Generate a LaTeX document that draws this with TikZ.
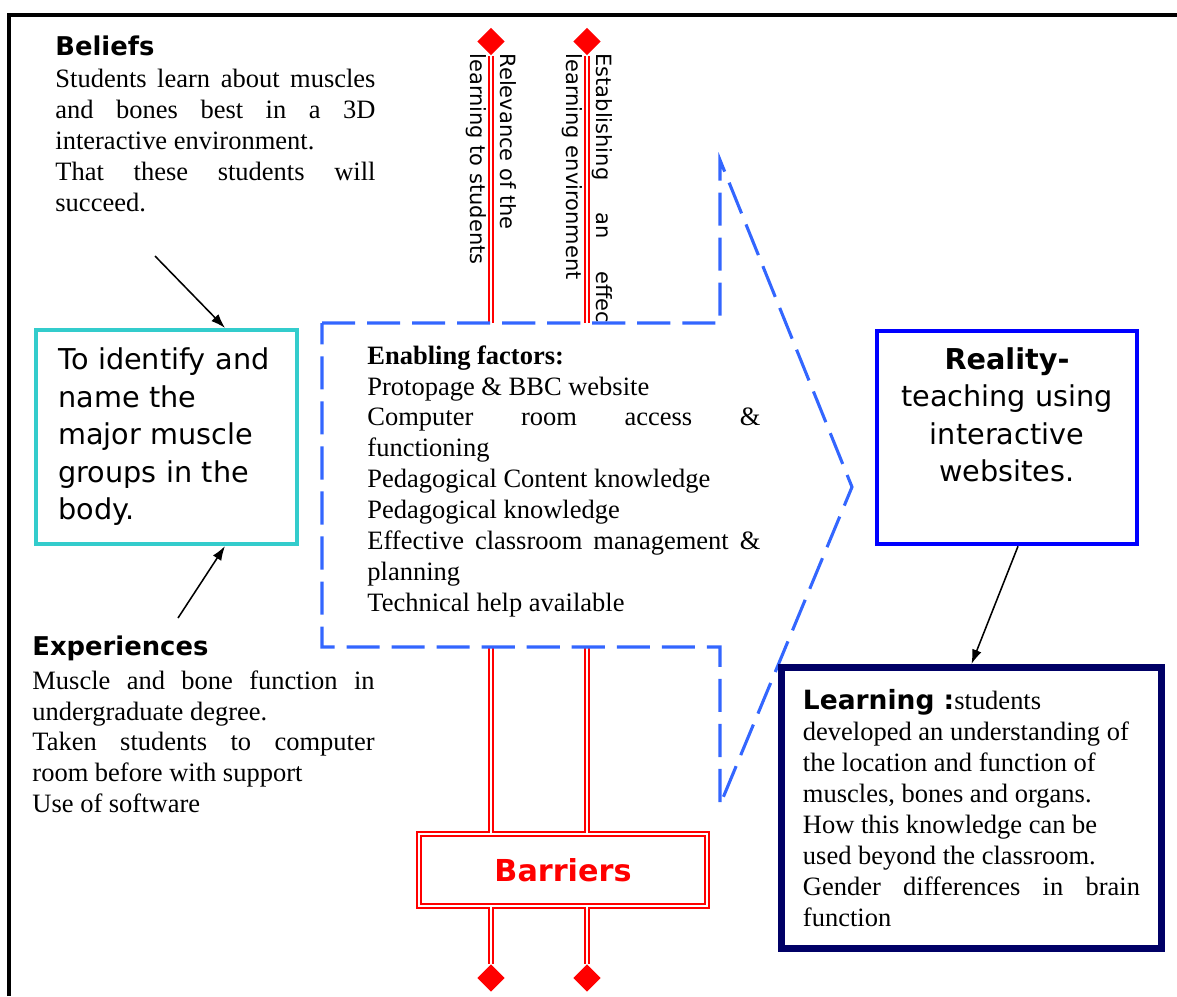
\documentclass[tikz,border=0pt]{standalone}
\usepackage{fontspec}
\setmainfont{Liberation Serif}
\setsansfont{DejaVu Sans}
\usepackage{tikz}
\usetikzlibrary{calc}
\usetikzlibrary{arrows.meta}
\usetikzlibrary{shapes.geometric}
\tikzset{>={Latex[length=6.5pt,width=4.5pt]}}
\definecolor{aqua}{RGB}{51,204,204}
\definecolor{dashblue}{RGB}{51,102,255}
\definecolor{navy}{RGB}{0,0,102}
\tikzset{
	body/.style={inner sep=0pt, align=justify, font=\rmfamily\fontsize{12}{14}\selectfont},
	head/.style={inner sep=0pt, font=\sffamily\bfseries\fontsize{11.7}{14}\selectfont},
	sans/.style={font=\sffamily\fontsize{13}{17}\selectfont},
	redline/.style={draw=red, double=white, line width=0.9pt, double distance=1.3pt},
	ending/.style={diamond, fill=red, inner sep=0pt, minimum width=12.5pt, minimum height=12.5pt},
	sidetext/.style={inner sep=0pt, rotate=-90, anchor=west, align=left, font=\sffamily\fontsize{9.5}{13.6}\selectfont},
	dashline/.style={draw=dashblue, line width=1.4pt, dash pattern=on 15pt off 5.4pt}
}
\hyphenpenalty=10000

\begin{document}
\begin{tikzpicture}[x=0.453pt,y=-0.453pt]
			\useasboundingbox (0,0) rectangle (1177,996);
			\draw[line width=1.4pt] (9,996) -- (9,15) -- (1177,15);

			\node[ending] (relevanceTop) at (491,41.5) {};
			\node[ending] (settingTop) at (587,41.5) {};
			\node[ending] (relevanceEnd) at (491,978) {};
			\node[ending] (settingEnd) at (587,978) {};
			\node[draw=red, double=white, line width=0.8pt, double distance=1.1pt, fill=white, minimum width=130.5pt, minimum height=32.6pt, text=red, font=\sffamily\bfseries\fontsize{13.7}{16}\selectfont] (barriers) at (563,870) {Barriers};
			\draw[redline] (relevanceTop.south) -- (relevanceTop |- barriers.north);
			\draw[redline] (settingTop.south) -- (settingTop |- barriers.north);
			\draw[redline] (relevanceEnd |- barriers.south) -- (relevanceEnd.north);
			\draw[redline] (settingEnd |- barriers.south) -- (settingEnd.north);

			\node[sidetext] (relevance) at (491,53) {Relevance of the\\ learning to students};
			\node[sidetext, text width=140pt] (setting) at (587,53) {\hbox to \hsize{Establishing\hfill an\hfill effective}\\ learning environment};

			\coordinate (A) at (322,323);
			\coordinate (B) at (720,323);
			\coordinate (C) at (720,160);
			\coordinate (D) at (852,487);
			\coordinate (E) at (720,805);
			\coordinate (F) at (720,647);
			\coordinate (G) at (322,647);
			\fill[white] (A) rectangle (F);
			\draw[dashline] (A) -- (B) -- (C) -- (D) -- (E) -- (F) -- (G) -- cycle;
			\node[body, anchor=north west, text width=178pt] (enabling) at (367,345) {\textbf{Enabling factors:}\\ Protopage \& BBC website\\ Computer room access \&\linebreak functioning\\ Pedagogical Content knowledge\\ Pedagogical knowledge\\ Effective classroom management \&\linebreak planning\\ Technical help available};

			\node[head, anchor=base west] (beliefs) at (55,55) {Beliefs};
			\node[body, anchor=north west, text width=145pt] (beliefsText) at (55,69) {Students learn about muscles\linebreak and bones best in a 3D\linebreak interactive environment.\\ That these students will\linebreak succeed.};
			\node[head, anchor=base west] (experiences) at (32,655) {Experiences};
			\node[body, anchor=north west, text width=155pt] (experiencesText) at (32,670) {Muscle and bone function in\linebreak undergraduate degree.\\ Taken students to computer\linebreak room before with support\\ Use of software};

			\node[sans, draw=aqua, line width=2pt, minimum width=118pt, minimum height=96.8pt, inner xsep=10pt, text width=98pt, align=left] (goal) at (166.5,437) {To identify and\\ name the\\ major muscle\\ groups in the\\ body.};
			\coordinate (beliefsTail) at (155,256);
			\coordinate (experiencesTail) at (178,618);
			\draw[->, line width=0.7pt] (beliefsTail) -- ($(goal.north)+(58.5,0)$);
			\draw[->, line width=0.7pt] (experiencesTail) -- ($(goal.south)+(58.5,0)$);

			\node[draw=blue, line width=2pt, minimum width=117.8pt, minimum height=96.5pt] (reality) at (1007,437.5) {};
			\node[sans, anchor=north, inner sep=0pt, align=center] (realityText) at (1007,347) {\textbf{Reality-}\\ teaching using\\ interactive\\ websites.};

			\node[body, draw=navy, line width=3.2pt, minimum width=172.1pt, minimum height=127.3pt, inner xsep=9.7pt, text width=152.7pt] (learning) at (971.5,808) {{\sffamily\bfseries Learning :}students\\ developed an understanding of\\ the location and function of\\ muscles, bones and organs.\\ How this knowledge can be\\ used beyond the classroom.\\ Gender differences in brain\linebreak function};
			\draw[->, line width=0.7pt] ($(reality.south)+(11,0)$) -- (learning.north);
		\end{tikzpicture}
\end{document}
